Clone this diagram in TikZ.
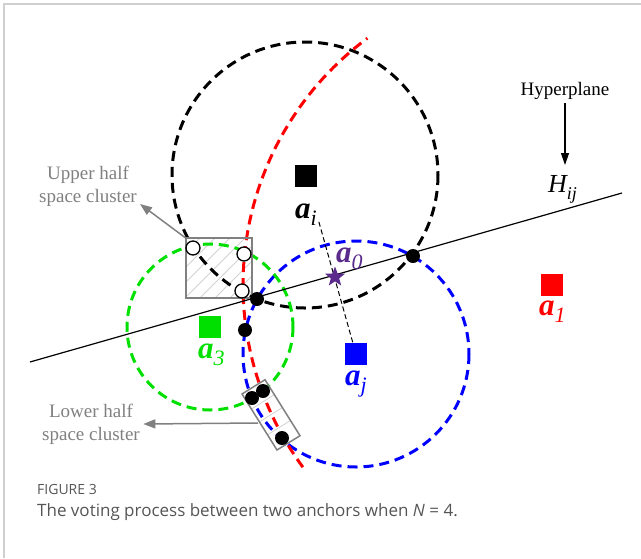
\documentclass[tikz,border=0pt]{standalone}
\usepackage{fontspec}
\setmainfont{Liberation Serif}
\newfontfamily\capfont{Open Sans}
\usetikzlibrary{arrows.meta,shapes.geometric}
\definecolor{labgray}{HTML}{808080}
\definecolor{capgray}{HTML}{555555}
\definecolor{framegray}{HTML}{D0D0D0}
\definecolor{cgreen}{HTML}{00E000}
\definecolor{cpurple}{HTML}{5A2A8C}
\newcommand\anclab[2]{{\fontsize{31}{31}\selectfont\bfseries\itshape a}\raisebox{-7pt}{\fontsize{22}{22}\selectfont\itshape #2}}
\begin{document}
\begin{tikzpicture}[x=1pt,y=-1pt,
  circ/.style={line width=3pt, dash pattern=on 10pt off 6pt},
  anch/.style={minimum size=22pt, inner sep=0pt, draw=none},
  bdot/.style={circle, fill=black, minimum size=14pt, inner sep=0pt},
  hdot/.style={circle, draw=black, fill=white, line width=1.3pt, minimum size=14pt, inner sep=0pt},
  glab/.style={text=labgray, font=\fontsize{19}{23}\selectfont, align=center},
  garrow/.style={draw=labgray, line width=1.5pt, -{Triangle[length=12pt,width=9pt]}},
  alab/.style={anchor=base west, inner sep=0pt},
]
\useasboundingbox (0,0) rectangle (641,558);
% frame
\draw[framegray, line width=2pt] (4,558) -- (4,4) -- (641,4);

% upper cluster hatching
\begin{scope}
  \clip (186,238) rectangle (252,298);
  \foreach \k in {0,...,10} \draw[gray!35, line width=0.8pt] ({110+\k*15},298) -- ++(80,-80);
\end{scope}
% lower cluster rungs
\begin{scope}
  \clip (242,394) -- (265,379.7) -- (300,435.7) -- (277,450) -- cycle;
  \foreach \t in {0.27,0.5,0.73} \draw[gray!35, line width=0.8pt] ({242+35*\t-5},{394+56*\t+3}) -- ++(33,-20.6);
\end{scope}

% circles
\draw[circ, black] (305,175) circle[radius=133];
\draw[circ, blue] (356,354) circle[radius=113];
\draw[circ, cgreen] (210,327) circle[radius=83];
\draw[circ, red] plot[domain=143.6:233.5, samples=120, smooth] ({550+307*cos(\x)},{285+307*sin(\x)});

% hyperplane line
\coordinate (hl) at (30,362);
\coordinate (hr) at (622,193);
\draw[black, line width=1.2pt] (hl) -- (hr);

% cluster boxes
\draw[labgray, line width=1.8pt] (186,238) rectangle (252,298);
\draw[labgray, line width=1.5pt] (242,394) -- (265,379.7) -- (300,435.7) -- (277,450) -- cycle;
\coordinate (ubox) at (187,239);
\coordinate (lbox) at (258,423);

% anchors
\node[anch, fill=black] (ai) at (306,176) {};
\node[anch, fill=blue] (aj) at (356,354) {};
\node[anch, fill=cgreen] (a3) at (210,327) {};
\node[anch, fill=red] (a1) at (552,285) {};
\draw[black, line width=1pt, dash pattern=on 5pt off 3pt, shorten <=36pt] (ai) -- (aj);
\node[star, star points=5, star point ratio=2.4, fill=cpurple, minimum size=21pt, inner sep=0pt] (a0) at (335,277) {};

% labels of anchors
\node[alab, text=black] (lai) at (295,218) {\anclab{a}{i}};
\node[alab, text=blue] (laj) at (345,385) {\anclab{a}{j}};
\node[alab, text=cgreen] (la3) at (198,358) {\anclab{a}{3}};
\node[alab, text=red] (la1) at (539,315) {\anclab{a}{1}};
\node[alab, text=cpurple] (la0) at (336,262) {\anclab{a}{0}};

% dots
\node[hdot] (h1) at (193,248) {};
\node[hdot] (h2) at (244,254) {};
\node[hdot] (h3) at (242,291) {};
\node[bdot] (d1) at (257,299) {};
\node[bdot] (d2) at (413,256) {};
\node[bdot] (d3) at (245,330) {};
\node[bdot] (d4) at (252,398) {};
\node[bdot] (d5) at (263,391) {};
\node[bdot] (d6) at (282,438) {};

% hyperplane annotation
\node[anchor=base, inner sep=0pt, font=\fontsize{19}{23}\selectfont] (hyp) at (565,95) {Hyperplane};
\coordinate (htip) at (565,165);
\draw[black, line width=1.2pt, -{Triangle[length=12pt,width=8pt]}, shorten <=4pt] (hyp.south) -- (htip);
\node[anchor=base west, inner sep=0pt] (hij) at (548,192) {\fontsize{26}{26}\selectfont\itshape H\raisebox{-7pt}{\fontsize{18}{18}\selectfont ij}};

% cluster labels
\node[glab] (ulab) at (88,186) {Upper half\\space cluster};
\draw[garrow] (ubox) -- (140,204);
\node[glab] (llab) at (91,424) {Lower half\\space cluster};
\draw[garrow] (lbox) -- (llab.east);

% caption
\node[anchor=west, inner sep=0pt, text=capgray, font=\capfont\fontsize{14}{16}\selectfont] (fig) at (37,489) {FIGURE 3};
\node[anchor=west, inner sep=0pt, text=capgray, font=\capfont\fontsize{17}{20}\selectfont] (cap) at (37,512) {The voting process between two anchors when \textit{N} = 4.};
\end{tikzpicture}
\end{document}
